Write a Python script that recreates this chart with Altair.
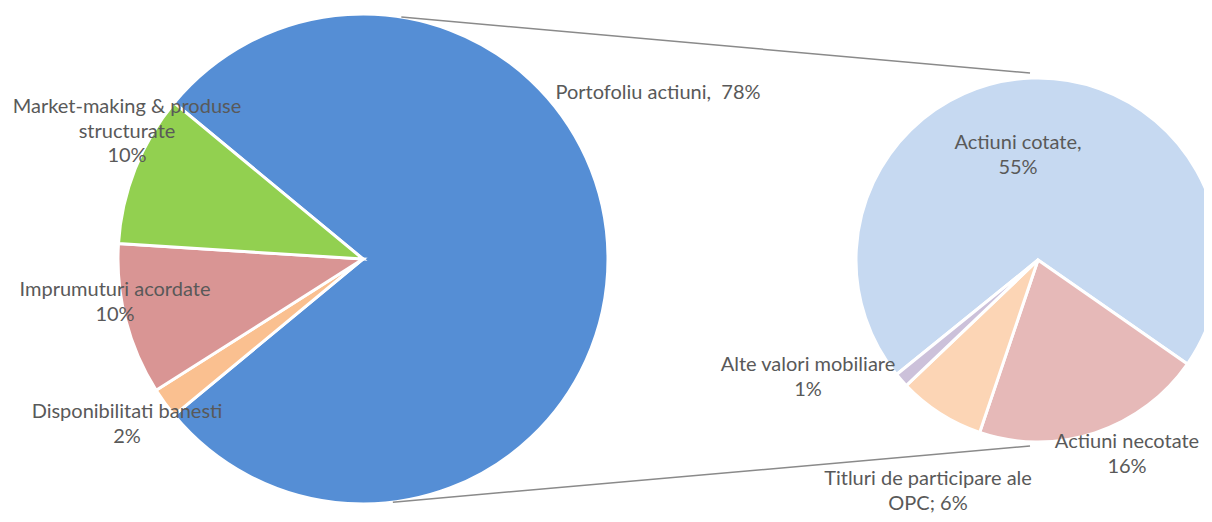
import math
import altair as alt
import pandas as pd

# ---------------- data ----------------
main_labels = ["Portofoliu actiuni", "Disponibilitati banesti",
               "Imprumuturi acordate", "Market-making & produse structurate"]
main_values = [78, 2, 10, 10]
main_colors = ["#558ED5", "#FAC090", "#D99594", "#92D050"]

sub_labels = ["Actiuni cotate", "Actiuni necotate",
              "Titluri de participare ale OPC", "Alte valori mobiliare"]
sub_values = [55, 16, 6, 1]
sub_colors = ["#C6D9F1", "#E6B9B8", "#FCD5B5", "#CCC1DA"]

label_texts = [
    "Portofoliu actiuni,\u00a0 78%",
    "Market-making & produse\nstructurate\n10%",
    "Imprumuturi acordate\n10%",
    "Disponibilitati banesti\n2%",
    "Actiuni cotate,\n55%",
    "Alte valori mobiliare\n1%",
    "Actiuni necotate\n16%",
    "Titluri de participare ale\nOPC; 6%",
]

# ---------------- layout ----------------
W, H = 1196, 506
OFF = 8
xs = alt.Scale(domain=[OFF, OFF + W], nice=False, zero=False)
ys = alt.Scale(domain=[OFF + H, OFF], nice=False, zero=False)

cx1, cy1, r1 = 363, 259, 245
cx2, cy2, r2 = 1038, 260, 182
start1 = 90 - main_values[0] / sum(main_values) * 180   # main slice centred at 3 o'clock
start2 = 231

# position of the first line of each label
label_x = [658, 127, 115, 127, 1018, 808, 1127, 928]
label_y = [93, 107, 290, 412, 143, 365, 442, 479]


def pie_layer(labels, values, colors, cx, cy, r, start_deg):
    df = pd.DataFrame({"label": labels, "value": values, "color": colors,
                       "ord": list(range(len(labels))), "cx": cx, "cy": cy})
    a0 = math.radians(start_deg)
    return alt.Chart(df).mark_arc(radius=r, stroke="white", strokeWidth=3).encode(
        theta=alt.Theta("value:Q", stack=True,
                        scale=alt.Scale(range=[a0, a0 + 2 * math.pi])),
        color=alt.Color("color:N", scale=None),
        order=alt.Order("ord:Q"),
        x=alt.X("cx:Q", scale=xs, axis=None),
        y=alt.Y("cy:Q", scale=ys, axis=None),
    )


pie1 = pie_layer(main_labels, main_values, main_colors, cx1, cy1, r1, start1)
pie2 = pie_layer(sub_labels, sub_values, sub_colors, cx2, cy2, r2, start2)

# connector lines from the main slice to the secondary pie
a_top, a_bot = math.radians(9), math.radians(173)
conn = pd.DataFrame({
    "x": [cx1 + r1 * math.sin(a_top), cx1 + r1 * math.sin(a_bot)],
    "y": [cy1 - r1 * math.cos(a_top), cy1 - r1 * math.cos(a_bot)],
    "x2": [cx2 - 8, cx2 - 8],
    "y2": [cy2 - r2 - 5, cy2 + r2 + 4],
})
lines = alt.Chart(conn).mark_rule(color="#8a8a8a", strokeWidth=1.5).encode(
    x=alt.X("x:Q", scale=xs, axis=None),
    y=alt.Y("y:Q", scale=ys, axis=None),
    x2="x2:Q",
    y2="y2:Q",
)

lab_df = pd.DataFrame({"text": label_texts, "x": label_x, "y": label_y})
labels = alt.Chart(lab_df).mark_text(
    font="Lato", fontSize=20, color="#595959", lineBreak="\n",
    lineHeight=24.5, align="center", baseline="middle",
).encode(
    x=alt.X("x:Q", scale=xs, axis=None),
    y=alt.Y("y:Q", scale=ys, axis=None),
    text="text:N",
)

chart = alt.layer(pie1, pie2, lines, labels).resolve_scale(
    theta="independent"
).properties(
    width=W, height=H, padding=0, autosize=alt.AutoSizeParams(type="none")
).configure_view(stroke=None)

chart.save("out.html", embed_options={"renderer": "svg", "actions": False})
